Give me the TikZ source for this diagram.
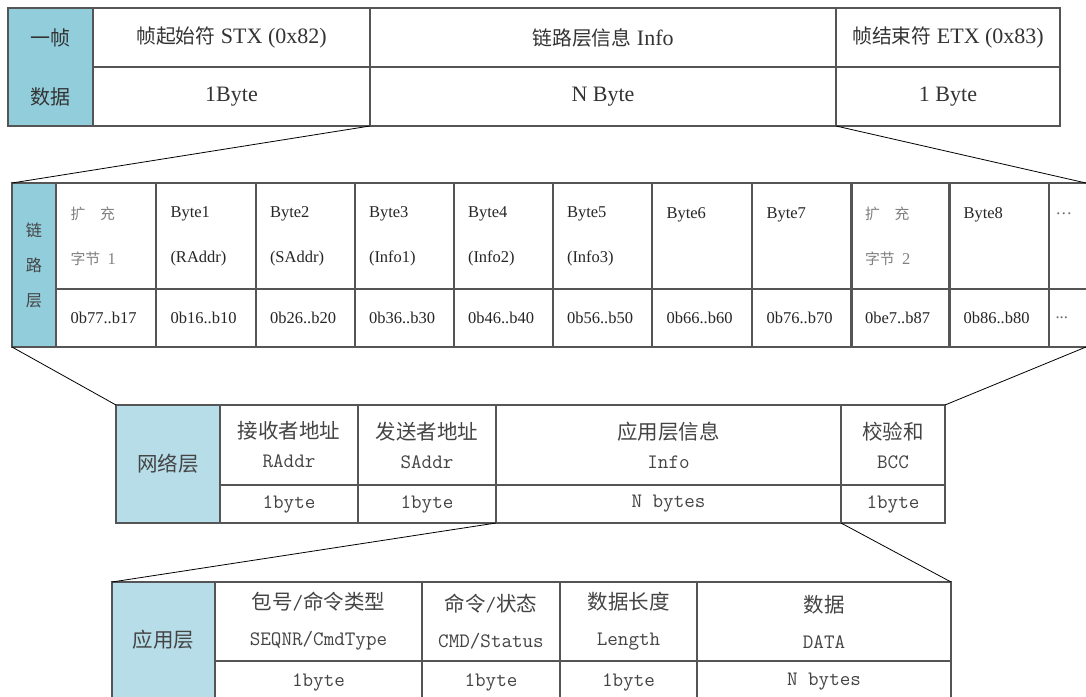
\documentclass[tikz,border=0pt]{standalone}
\usepackage{fontspec}
\setmainfont{Liberation Serif}
\newfontfamily\cjkfont{Noto Sans CJK SC}
\newfontfamily\cjksmall{Noto Sans CJK SC}[Scale=0.9]
\newcommand\zh[1]{{\cjkfont #1}}
\newcommand\zhs[1]{{\cjksmall #1}}
\newcommand\zhg[1]{{\cjksmall\color{cjkgray}#1}}
\definecolor{blueA}{HTML}{92CDDC}
\definecolor{blueB}{HTML}{B7DDE8}
\definecolor{rule}{HTML}{555555}
\definecolor{txt}{HTML}{333333}
\definecolor{cjkgray}{HTML}{808080}
\definecolor{nettxt}{HTML}{444444}
\newcommand\cellnode[7][]{\node[cellbox,minimum width={(#5-#3)*1pt},minimum height={(#6-#4)*1pt},#1] (#2) at ({(#3+#5)/2},{(#4+#6)/2}) {#7};}
\begin{document}
\begin{tikzpicture}[x=1pt,y=-1pt,
  cellbox/.style={draw=rule,line width=1.2pt,inner sep=0pt,outer sep=0pt,text=txt,align=center},
  topf/.style={font=\fontsize{22}{59}\selectfont},
  linkf/.style={font=\fontsize{16.5}{45}\selectfont,align=left,text width=71pt,inner xsep=14pt,text=black!85},
  netf/.style={font=\ttfamily\fontsize{20.5}{29}\selectfont,text=nettxt},
  appf/.style={font=\ttfamily\fontsize{20.5}{36}\selectfont,text=nettxt},
  conn/.style={draw=black,line width=0.8pt}]
\clip (0,0) rectangle (1086,696);
\fill[white] (0,0) rectangle (1086,696);
% ---- top frame ----
\cellnode[topf,fill=blueA,font=\fontsize{20}{59}\selectfont]{tB}{8}{8}{93}{126}{\zh{一帧}\\\zh{数据}}
\cellnode[topf]{tS}{93}{8}{370}{67}{\zhs{帧起始符} STX (0x82)}
\cellnode[topf]{tS2}{93}{67}{370}{126}{1Byte}
\cellnode[topf]{tI}{370}{8}{836}{67}{\zhs{链路层信息} Info}
\cellnode[topf]{tI2}{370}{67}{836}{126}{N Byte}
\cellnode[topf]{tE}{836}{8}{1060}{67}{\zhs{帧结束符} ETX (0x83)}
\cellnode[topf]{tE2}{836}{67}{1060}{126}{1 Byte}
% ---- link layer ----
\cellnode[fill=blueA,font=\fontsize{18}{35}\selectfont,text=nettxt]{lB}{12}{183}{56}{347}{\zhs{链}\\\zhs{路}\\\zhs{层}}
\cellnode[linkf]{l1a}{56}{183}{156}{289}{\zhg{扩\hspace{1em}充}\\\zhg{字节\hspace{0.5em}}{\color{cjkgray}1}}
\cellnode[linkf]{l1b}{56}{289}{156}{347}{0b77..b17}
\cellnode[linkf]{l2a}{156}{183}{256}{289}{Byte1\\(RAddr)}
\cellnode[linkf]{l2b}{156}{289}{256}{347}{0b16..b10}
\cellnode[linkf]{l3a}{256}{183}{355}{289}{Byte2\\(SAddr)}
\cellnode[linkf]{l3b}{256}{289}{355}{347}{0b26..b20}
\cellnode[linkf]{l4a}{355}{183}{454}{289}{Byte3\\(Info1)}
\cellnode[linkf]{l4b}{355}{289}{454}{347}{0b36..b30}
\cellnode[linkf]{l5a}{454}{183}{553}{289}{Byte4\\(Info2)}
\cellnode[linkf]{l5b}{454}{289}{553}{347}{0b46..b40}
\cellnode[linkf]{l6a}{553}{183}{652}{289}{Byte5\\(Info3)}
\cellnode[linkf]{l6b}{553}{289}{652}{347}{0b56..b50}
\cellnode[linkf]{l7a}{652}{183}{752}{289}{Byte6\\\mbox{}}
\cellnode[linkf]{l7b}{652}{289}{752}{347}{0b66..b60}
\cellnode[linkf]{l8a}{752}{183}{852}{289}{Byte7\\\mbox{}}
\cellnode[linkf]{l8b}{752}{289}{852}{347}{0b76..b70}
\cellnode[linkf]{l9a}{852}{183}{949}{289}{\zhg{扩\hspace{1em}充}\\\zhg{字节\hspace{0.5em}}{\color{cjkgray}2}}
\cellnode[linkf]{l9b}{852}{289}{949}{347}{0be7..b87}
\cellnode[linkf]{l10a}{949}{183}{1049}{289}{Byte8\\\mbox{}}
\cellnode[linkf]{l10b}{949}{289}{1049}{347}{0b86..b80}
\cellnode[linkf,draw=none,text width=24pt,inner xsep=6pt,text=black!60]{lDa}{1049}{183}{1086}{289}{\dots\\\mbox{}}
\cellnode[linkf,draw=none,text width=24pt,inner xsep=6pt,text=black!60]{lDb}{1049}{289}{1086}{347}{...}
\draw[rule,line width=1.2pt] (lDa.north west) -- (lDa.north east);
\draw[rule,line width=1.2pt] (lDb.north west) -- (lDb.north east);
\draw[rule,line width=1.2pt] (lDb.south west) -- (lDb.south east);
% ---- network layer ----
\cellnode[netf,fill=blueB]{nB}{116}{405}{220}{523}{\zh{网络层}}
\cellnode[netf]{nR}{220}{405}{358}{485}{\zh{接收者地址}\\RAddr}
\cellnode[netf]{nR2}{220}{485}{358}{523}{1byte}
\cellnode[netf]{nS}{358}{405}{496}{485}{\zh{发送者地址}\\SAddr}
\cellnode[netf]{nS2}{358}{485}{496}{523}{1byte}
\cellnode[netf]{nI}{496}{405}{841}{485}{\zh{应用层信息}\\Info}
\cellnode[netf]{nI2}{496}{485}{841}{523}{N bytes}
\cellnode[netf]{nC}{841}{405}{945}{485}{\zh{校验和}\\BCC}
\cellnode[netf]{nC2}{841}{485}{945}{523}{1byte}
% ---- application layer ----
\cellnode[appf,fill=blueB]{aB}{112}{582}{215}{703}{\raisebox{7pt}{\zh{应用层}}}
\cellnode[appf]{a1}{215}{582}{422}{661}{\zh{包号}/\zh{命令类型}\\SEQNR/CmdType}
\cellnode[appf]{a1b}{215}{661}{422}{703}{1byte}
\cellnode[appf]{a2}{422}{582}{560}{661}{\zh{命令}/\zh{状态}\\CMD/Status}
\cellnode[appf]{a2b}{422}{661}{560}{703}{1byte}
\cellnode[appf]{a3}{560}{582}{697}{661}{\zh{数据长度}\\Length}
\cellnode[appf]{a3b}{560}{661}{697}{703}{1byte}
\cellnode[appf]{a4}{697}{582}{951}{661}{\zh{数据}\\DATA}
\cellnode[appf]{a4b}{697}{661}{951}{703}{N bytes}
% ---- connectors ----
\draw[conn] (tI2.south west) -- (lB.north west);
\draw[conn] (tI2.south east) -- (lDa.north east);
\draw[conn] (lB.south west) -- (nB.north west);
\draw[conn] (lDb.south east) -- (nC.north east);
\draw[conn] (nI2.south west) -- (aB.north west);
\draw[conn] (nI2.south east) -- (a4.north east);
\end{tikzpicture}
\end{document}
